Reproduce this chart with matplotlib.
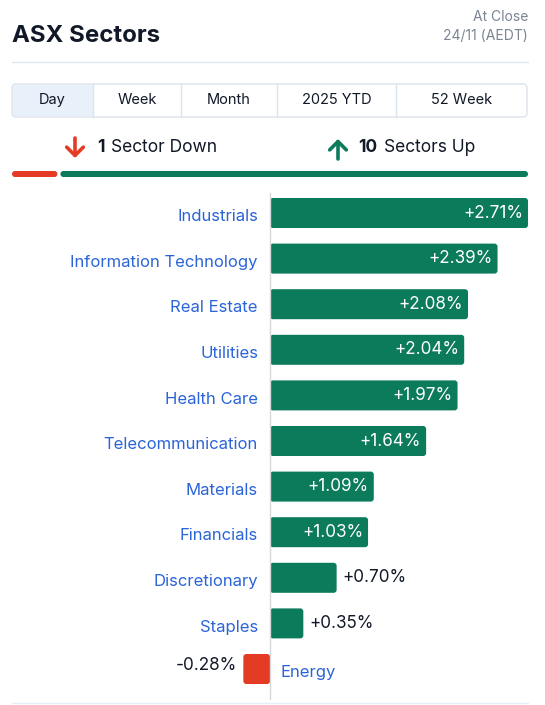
# ASX sector performance for one day, drawn as a horizontal bar chart

import matplotlib
matplotlib.use("Agg")
import matplotlib.pyplot as plt
from matplotlib.patches import FancyBboxPatch, Rectangle

plt.rcParams['font.family'] = ['Inter', 'DejaVu Sans']

# Data
sectors = ["Industrials", "Information Technology", "Real Estate", "Utilities",
           "Health Care", "Telecommunication", "Materials", "Financials",
           "Discretionary", "Staples", "Energy"]
changes = [2.71, 2.39, 2.08, 2.04, 1.97, 1.64, 1.09, 1.03, 0.70, 0.35, -0.28]
tabs = ["Day", "Week", "Month", "2025 YTD", "52 Week"]
tab_edges = [12, 93, 181, 277, 396, 527]
n_down = sum(1 for v in changes if v < 0)
n_up = sum(1 for v in changes if v > 0)

GREEN = "#0b7b5b"
RED = "#e43b25"
BLUE = "#2a64d8"
DARK = "#111827"
GREY = "#7b8594"

W, H = 545, 705
fig = plt.figure(figsize=(W / 100, H / 100), dpi=100)

# overlay in pixel coordinates for the header and the controls
bg = fig.add_axes([0, 0, 1, 1])
bg.set_xlim(0, W)
bg.set_ylim(H, 0)
bg.axis("off")

bg.text(12, 36, "ASX Sectors", fontsize=17.3, fontweight="bold", color=DARK,
        ha="left", va="center")
bg.text(528, 17, "At Close", fontsize=10, color=GREY, ha="right", va="center")
bg.text(528, 36, "24/11 (AEDT)", fontsize=10, color=GREY, ha="right", va="center")
bg.plot([12, 528], [62, 62], color="#dde6ef", lw=1)

# tabs
bg.add_patch(FancyBboxPatch((12, 84), 515, 33, boxstyle="round,pad=0,rounding_size=4",
                            fc="white", ec="#dbe3eb", lw=1))
bg.add_patch(Rectangle((13, 85), tab_edges[1] - 13, 31, fc="#e8f1f9", ec="none"))
for x in tab_edges[1:-1]:
    bg.plot([x, x], [84, 117], color="#dbe3eb", lw=1)
for i, t in enumerate(tabs):
    bg.text((tab_edges[i] + tab_edges[i + 1]) / 2, 100, t, fontsize=10.5,
            color=DARK, ha="center", va="center")

# up/down summary
arrow = dict(arrowstyle="->,head_width=0.6,head_length=0.6", lw=2.6,
             shrinkA=0, shrinkB=0)
bg.annotate("", xy=(75, 158), xytext=(75, 138), arrowprops=dict(arrow, color=RED))
bg.annotate("", xy=(338, 139), xytext=(338, 159), arrowprops=dict(arrow, color=GREEN))
bg.text(97, 148, str(n_down), fontsize=12.5, fontweight="bold", color=DARK,
        ha="left", va="center")
bg.text(111, 148, "Sector Down", fontsize=12.5, color=DARK, ha="left", va="center")
bg.text(358, 148, str(n_up), fontsize=12.5, fontweight="bold", color=DARK,
        ha="left", va="center")
bg.text(384, 148, "Sectors Up", fontsize=12.5, color=DARK, ha="left", va="center")

split = 12 + (528 - 12) * n_down / (n_down + n_up)
bg.add_patch(FancyBboxPatch((12, 171), split - 1.5 - 12, 6,
                            boxstyle="round,pad=0,rounding_size=3", fc=RED, ec="none"))
bg.add_patch(FancyBboxPatch((split + 1.5, 171), 528 - split - 1.5, 6,
                            boxstyle="round,pad=0,rounding_size=3", fc=GREEN, ec="none"))
bg.plot([12, 528], [703, 703], color="#e6eef6", lw=1)

# bar chart
px = 95.2          # pixels per percent
zero_px = 270
top_px, bot_px = 190, 700
row0, step = 213, 45.6
ax = fig.add_axes([0, 1 - bot_px / H, 1, (bot_px - top_px) / H])
ax.set_xlim(-zero_px / px, (W - zero_px) / px)
ax.set_ylim((bot_px - row0) / step, (top_px - row0) / step)
ax.axis("off")

ypos = list(range(len(sectors)))
colors = [GREEN if v >= 0 else RED for v in changes]
bars = ax.barh(ypos, changes, height=30 / step, color=colors, zorder=2)
# swap the square bars for slightly rounded ones
for b in bars:
    x0, y0 = b.get_x(), b.get_y()
    w, h = b.get_width(), b.get_height()
    if w < 0:
        x0, w = x0 + w, -w
    ax.add_patch(FancyBboxPatch((x0, y0), w, h,
                                boxstyle=f"round,pad=0,rounding_size={3 / px}",
                                mutation_aspect=px / step, fc=b.get_facecolor(),
                                ec="none", zorder=2))
    b.set_visible(False)
ax.plot([0, 0], [(193 - row0) / step, (bot_px - row0) / step],
        color="#d5d9de", lw=1, zorder=3)

gap = 6 / px
for y, name, v in zip(ypos, sectors, changes):
    label = f"{v:+.2f}%"
    if v >= 0:
        ax.text(-12 / px, y + 0.08, name, fontsize=12, color=BLUE,
                ha="right", va="center")
        if v >= 1.0:
            ax.text(v - 5 / px, y, label, fontsize=12.3, color="white",
                    ha="right", va="center", zorder=4)
        else:
            ax.text(v + gap, y, label, fontsize=12.3, color=DARK,
                    ha="left", va="center")
    else:
        ax.text(10 / px, y + 0.08, name, fontsize=12, color=BLUE,
                ha="left", va="center")
        ax.text(v - gap, y - 0.08, label, fontsize=12.3, color=DARK,
                ha="right", va="center")

fig.savefig("out.png", dpi=100)
